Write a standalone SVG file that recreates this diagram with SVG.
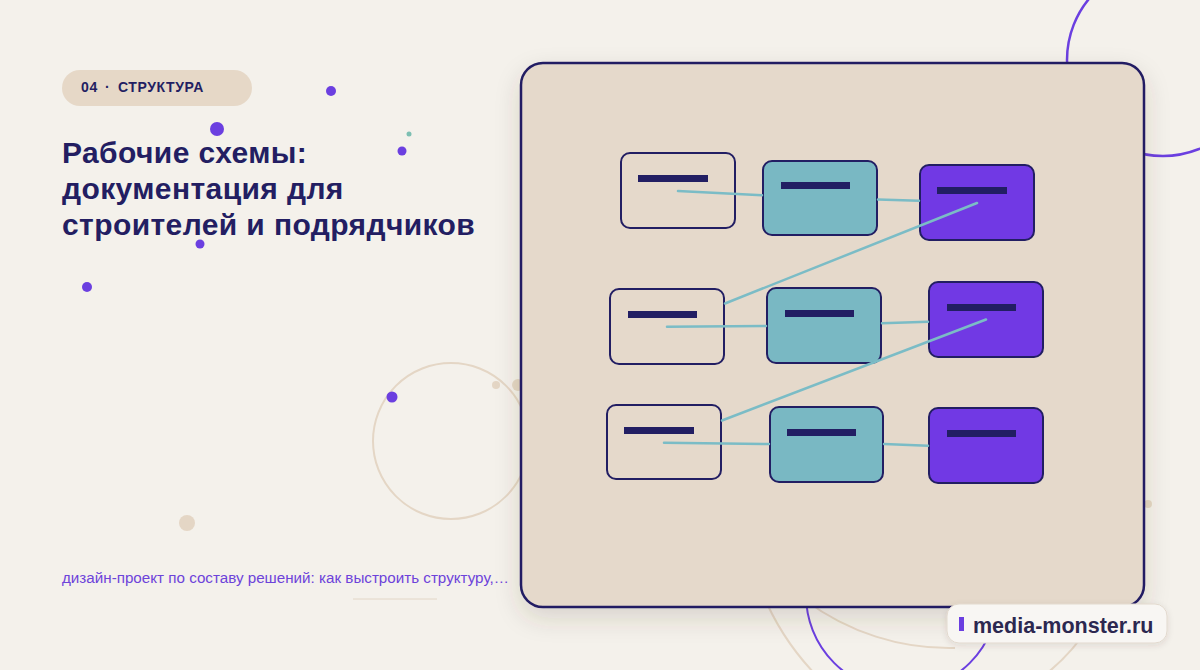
<svg xmlns="http://www.w3.org/2000/svg" width="1200" height="670" viewBox="0 0 1200 670">
  <defs>
    <style>
      .ff { font-family: "Liberation Sans", Arial, sans-serif; }
      .title { font-size: 30px; font-weight: 700; fill: #231E62; letter-spacing: 0.4px; }
      .node { stroke: #221E63; stroke-width: 2; }
      .outline { fill: #E5D9CB; }
      .teal { fill: #79B8C3; }
      .violet { fill: #7139E4; }
      .bar { fill: #221E63; }
      .conn { stroke: #7BBCC6; stroke-width: 2.5; fill: none; stroke-linecap: round; }
      .dot { fill: #6B3FE0; }
      .beige { fill: none; stroke: #E4D6C5; stroke-width: 2; }
    </style>
    <filter id="shadow" x="-10%" y="-10%" width="120%" height="125%">
      <feDropShadow dx="0" dy="10" stdDeviation="12" flood-color="#4a3b2c" flood-opacity="0.16"/>
    </filter>
    <filter id="shadow2" x="-10%" y="-30%" width="120%" height="160%">
      <feDropShadow dx="0" dy="2" stdDeviation="3" flood-color="#4a3b2c" flood-opacity="0.12"/>
    </filter>
  </defs>

  <rect x="0" y="0" width="1200" height="670" fill="#F4F1EB"/>

  <!-- decorative background -->
  <g id="decor">
    <circle cx="1163" cy="60" r="96" fill="none" stroke="#6B3FE0" stroke-width="2.5"/>
    <circle cx="902" cy="595" r="96" fill="none" stroke="#6B3FE0" stroke-width="2"/>
    <circle cx="451" cy="441" r="78" class="beige" stroke-width="1.8"/>
    <path class="beige" d="M 762 592 A 260 260 0 0 0 815 674"/>
    <path class="beige" d="M 805 600 A 240 240 0 0 0 955 648"/>
    <path class="beige" d="M 1090 625 A 200 200 0 0 1 1046 674"/>
    <circle cx="496" cy="385" r="4" fill="#E4D6C5"/>
    <circle cx="518" cy="385" r="6" fill="#E4D6C5"/>
    <circle cx="187" cy="523" r="8" fill="#E4D6C5"/>
    <circle cx="1148" cy="504" r="4" fill="#E4D6C5"/>
    <circle class="dot" cx="331" cy="91" r="5"/>
    <circle class="dot" cx="217" cy="129" r="7"/>
    <circle cx="409" cy="134" r="2.5" fill="#7DBFB2"/>
    <circle class="dot" cx="402" cy="151" r="4.5"/>
    <circle class="dot" cx="200" cy="244" r="4.5"/>
    <circle class="dot" cx="87" cy="287" r="5"/>
    <circle class="dot" cx="392" cy="397" r="5.5"/>
  </g>

  <!-- left column -->
  <g id="tag">
    <rect x="62" y="70" width="190" height="36" rx="18" fill="#E6D8C7"/>
    <text class="ff" y="92" font-size="14" font-weight="700" fill="#231E62" letter-spacing="0.6"><tspan x="81">04</tspan><tspan x="105">·</tspan><tspan x="118">СТРУКТУРА</tspan></text>
  </g>
  <g id="title">
    <text class="ff title" x="62" y="163">Рабочие схемы:</text>
    <text class="ff title" x="62" y="199">документация для</text>
    <text class="ff title" x="62" y="235">строителей и подрядчиков</text>
  </g>
  <g id="subtitle">
    <text class="ff" x="62" y="583" font-size="15.2" fill="#6D43DA">дизайн-проект по составу решений: как выстроить структуру,…</text>
    <line x1="353" y1="599" x2="437" y2="599" stroke="#E2D6C6" stroke-width="1"/>
  </g>

  <!-- panel -->
  <g id="panel">
    <rect x="521" y="63" width="623" height="544" rx="22" fill="#E5D9CB" stroke="#221E63" stroke-width="2.5" filter="url(#shadow)"/>
  </g>

  <!-- nodes -->
  <g id="n1"><rect class="node outline" x="621" y="153" width="114" height="75" rx="9"/><rect class="bar" x="638" y="175" width="70" height="7"/></g>
  <g id="n2"><rect class="node teal" x="763" y="161" width="114" height="74" rx="9"/><rect class="bar" x="781" y="182" width="69" height="7"/></g>
  <g id="n3"><rect class="node violet" x="920" y="165" width="114" height="75" rx="9"/><rect class="bar" x="937" y="187" width="70" height="7"/></g>
  <g id="n4"><rect class="node outline" x="610" y="289" width="114" height="75" rx="9"/><rect class="bar" x="628" y="311" width="69" height="7"/></g>
  <g id="n5"><rect class="node teal" x="767" y="288" width="114" height="75" rx="9"/><rect class="bar" x="785" y="310" width="69" height="7"/></g>
  <g id="n6"><rect class="node violet" x="929" y="282" width="114" height="75" rx="9"/><rect class="bar" x="947" y="304" width="69" height="7"/></g>
  <g id="n7"><rect class="node outline" x="607" y="405" width="114" height="74" rx="9"/><rect class="bar" x="624" y="427" width="70" height="7"/></g>
  <g id="n8"><rect class="node teal" x="770" y="407" width="113" height="75" rx="9"/><rect class="bar" x="787" y="429" width="69" height="7"/></g>
  <g id="n9"><rect class="node violet" x="929" y="408" width="114" height="75" rx="9"/><rect class="bar" x="947" y="430" width="69" height="7"/></g>

  <!-- connectors -->
  <g id="connectors">
    <line class="conn" x1="678" y1="191" x2="762" y2="195.3"/>
    <line class="conn" x1="878" y1="199.6" x2="919" y2="200.8"/>
    <line class="conn" x1="977" y1="203" x2="725" y2="303.5"/>
    <line class="conn" x1="667" y1="326.7" x2="766" y2="326"/>
    <line class="conn" x1="882" y1="323.3" x2="928" y2="321.7"/>
    <line class="conn" x1="986" y1="319.5" x2="722" y2="420.5"/>
    <line class="conn" x1="664" y1="442.7" x2="769" y2="444"/>
    <line class="conn" x1="884" y1="444" x2="928" y2="445.7"/>
  </g>

  <!-- badge -->
  <g id="badge">
    <rect x="947" y="604" width="220" height="39" rx="12" fill="#F8F6F3" stroke="#E2D9CE" stroke-width="1" filter="url(#shadow2)"/>
    <rect x="959" y="617" width="5" height="14" fill="#6B3FE0"/>
    <text class="ff" x="973" y="633" font-size="21.5" font-weight="700" fill="#2C2850">media-monster.ru</text>
  </g>
</svg>
